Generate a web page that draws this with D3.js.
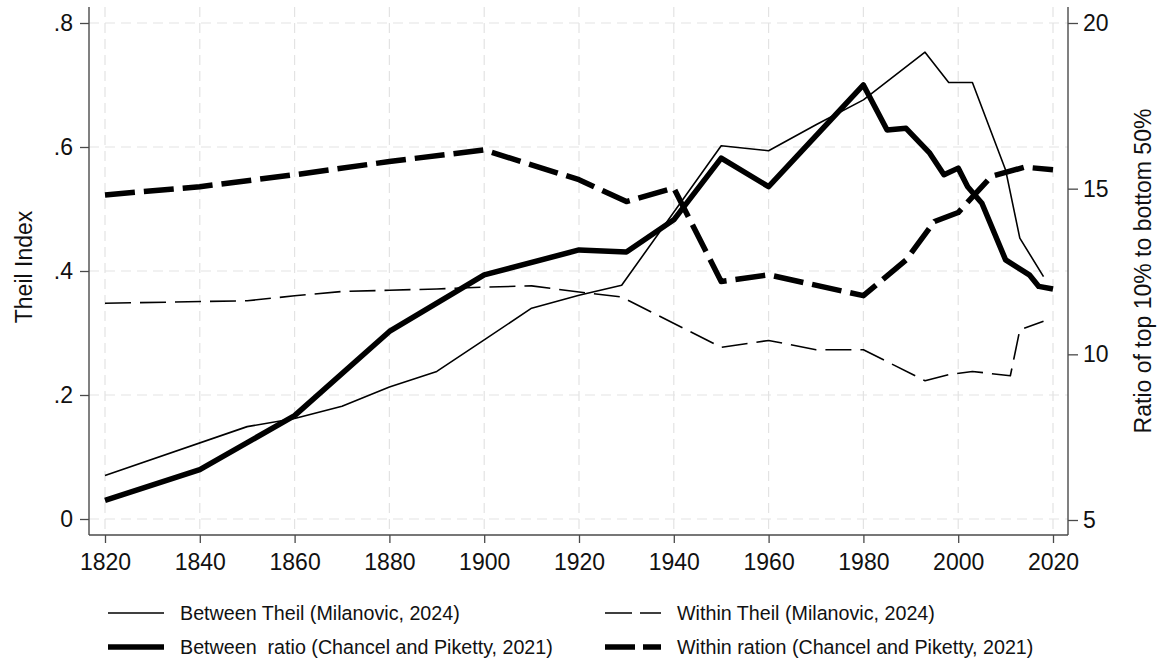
<!DOCTYPE html>
<html>
<head>
<meta charset="utf-8">
<script src="https://cdn.jsdelivr.net/npm/d3@7"></script>
<style>
  body { margin: 0; background: #fff; }
  svg { display: block; font-family: "Liberation Sans", Arial, Helvetica, sans-serif; }
</style>
</head>
<body>
<div id="chart"></div>
<script>
// Between Theil (Milanovic, 2024) - left axis
const betweenTheilYears = [1820, 1850, 1860, 1870, 1880, 1890, 1900, 1910, 1920, 1929, 1950, 1960, 1970, 1980, 1993, 1998, 2003, 2010, 2013, 2018];
const betweenTheil = [0.070, 0.149, 0.162, 0.182, 0.213, 0.238, 0.289, 0.340, 0.361, 0.377, 0.602, 0.594, 0.636, 0.676, 0.753, 0.704, 0.704, 0.563, 0.453, 0.391];

// Within Theil (Milanovic, 2024) - left axis
const withinTheilYears = [1820, 1850, 1860, 1870, 1880, 1890, 1900, 1910, 1920, 1929, 1950, 1960, 1970, 1980, 1993, 1998, 2003, 2011, 2013, 2018];
const withinTheil = [0.348, 0.352, 0.360, 0.367, 0.369, 0.371, 0.374, 0.376, 0.366, 0.358, 0.277, 0.288, 0.273, 0.273, 0.223, 0.233, 0.238, 0.231, 0.305, 0.319];

// Between ratio (Chancel and Piketty, 2021) - right axis
const betweenRatioYears = [1820, 1840, 1860, 1880, 1900, 1920, 1930, 1940, 1950, 1960, 1980, 1985, 1989, 1994, 1997, 2000, 2002, 2005, 2010, 2015, 2017, 2020];
const betweenRatio = [5.59, 6.52, 8.15, 10.69, 12.40, 13.15, 13.09, 14.06, 15.92, 15.06, 18.13, 16.77, 16.82, 16.07, 15.42, 15.62, 15.06, 14.56, 12.85, 12.40, 12.05, 11.97];

// Within ration (Chancel and Piketty, 2021) - right axis
const withinRatioYears = [1820, 1840, 1860, 1880, 1900, 1920, 1930, 1940, 1950, 1960, 1980, 1989, 1995, 2000, 2007, 2014, 2020];
const withinRatio = [14.81, 15.06, 15.42, 15.82, 16.17, 15.27, 14.61, 15.02, 12.20, 12.40, 11.77, 12.85, 14.01, 14.28, 15.37, 15.65, 15.57];

const xTicks = [1820, 1840, 1860, 1880, 1900, 1920, 1940, 1960, 1980, 2000, 2020];
const leftTicks = [0, 0.2, 0.4, 0.6, 0.8];
const rightTicks = [5, 10, 15, 20];

const legendItems = [
  { label: "Between Theil (Milanovic, 2024)", width: 1.6, dash: null },
  { label: "Within Theil (Milanovic, 2024)", width: 1.6, dash: "27,8" },
  { label: "Between  ratio (Chancel and Piketty, 2021)", width: 5.5, dash: null },
  { label: "Within ration (Chancel and Piketty, 2021)", width: 5.5, dash: "30,8" }
];

const W = 1168, H = 664;
const plot = { left: 89, right: 1068, top: 7, bottom: 535 };

const svg = d3.select("#chart").append("svg")
  .attr("width", W).attr("height", H);

const x = d3.scaleLinear().domain([1820, 2020]).range([105, 1053]);
const yL = d3.scaleLinear().domain([0, 0.8]).range([519, 23]);
const yR = d3.scaleLinear().domain([5, 20]).range([520, 23]);

// grid
const grid = svg.append("g").attr("class", "grid")
  .attr("stroke", "#e3e3e3").attr("stroke-width", 1.2).attr("stroke-dasharray", "10,6");
grid.selectAll(".hg").data(leftTicks).join("line")
  .attr("x1", plot.left).attr("x2", plot.right)
  .attr("y1", d => yL(d)).attr("y2", d => yL(d));
grid.selectAll(".vg").data(xTicks).join("line")
  .attr("x1", d => x(d)).attr("x2", d => x(d))
  .attr("y1", plot.top).attr("y2", plot.bottom);

// axes
const axisColor = "#4a4a4a";
function styleAxis(g) {
  g.select(".domain").remove();
  g.selectAll(".tick line").attr("stroke", axisColor).attr("stroke-width", 1.3);
  g.selectAll(".tick text").attr("fill", "#111").attr("font-size", 23);
}

const fmtL = d => d === 0 ? "0" : d3.format(".1f")(d).replace(/^0/, "");

svg.append("g")
  .attr("transform", `translate(${plot.left},0)`)
  .call(d3.axisLeft(yL).tickValues(leftTicks).tickFormat(fmtL).tickSize(9).tickPadding(7))
  .call(styleAxis);

svg.append("g")
  .attr("transform", `translate(${plot.right},0)`)
  .call(d3.axisRight(yR).tickValues(rightTicks).tickFormat(d3.format("d")).tickSize(10).tickPadding(5))
  .call(styleAxis);

svg.append("g")
  .attr("transform", `translate(0,${plot.bottom})`)
  .call(d3.axisBottom(x).tickValues(xTicks).tickFormat(d3.format("d")).tickSize(8).tickPadding(11))
  .call(styleAxis);

// axis lines
const frame = svg.append("g").attr("stroke", axisColor).attr("stroke-width", 1.4);
frame.append("line").attr("x1", plot.left).attr("x2", plot.left).attr("y1", plot.top).attr("y2", plot.bottom);
frame.append("line").attr("x1", plot.right).attr("x2", plot.right).attr("y1", plot.top).attr("y2", plot.bottom);
frame.append("line").attr("x1", plot.left).attr("x2", plot.right).attr("y1", plot.bottom).attr("y2", plot.bottom);

// axis titles
svg.append("text")
  .attr("transform", `translate(32,267) rotate(-90)`)
  .attr("text-anchor", "middle").attr("font-size", 23).attr("fill", "#111")
  .text("Theil Index");
svg.append("text")
  .attr("transform", `translate(1151,271) rotate(-90)`)
  .attr("text-anchor", "middle").attr("font-size", 23).attr("fill", "#111")
  .text("Ratio of top 10% to bottom 50%");

// lines
function drawLine(years, vals, yScale, width, dash) {
  const pts = years.map((yr, i) => [yr, vals[i]]);
  const line = d3.line().x(d => x(d[0])).y(d => yScale(d[1]));
  svg.append("path")
    .datum(pts)
    .attr("d", line)
    .attr("fill", "none")
    .attr("stroke", "#000")
    .attr("stroke-width", width)
    .attr("stroke-linejoin", "round")
    .attr("stroke-dasharray", dash);
}

drawLine(withinTheilYears, withinTheil, yL, 1.6, "26,9");
drawLine(betweenTheilYears, betweenTheil, yL, 1.6, null);
drawLine(withinRatioYears, withinRatio, yR, 5.5, "30,9");
drawLine(betweenRatioYears, betweenRatio, yR, 5.5, null);

// legend
const legPos = [
  { sx: 108, tx: 180, y: 613 },
  { sx: 605, tx: 677, y: 613 },
  { sx: 108, tx: 180, y: 647 },
  { sx: 605, tx: 677, y: 647 }
];
const leg = svg.append("g").attr("class", "legend");
legendItems.forEach((item, i) => {
  const p = legPos[i];
  leg.append("line")
    .attr("x1", p.sx).attr("x2", p.sx + 56)
    .attr("y1", p.y).attr("y2", p.y)
    .attr("stroke", "#000").attr("stroke-width", item.width)
    .attr("stroke-dasharray", item.dash);
  leg.append("text")
    .attr("x", p.tx).attr("y", p.y).attr("dy", "0.35em")
    .attr("font-size", 19.7).attr("fill", "#111")
    .style("white-space", "pre")
    .text(item.label);
});
</script>
</body>
</html>
